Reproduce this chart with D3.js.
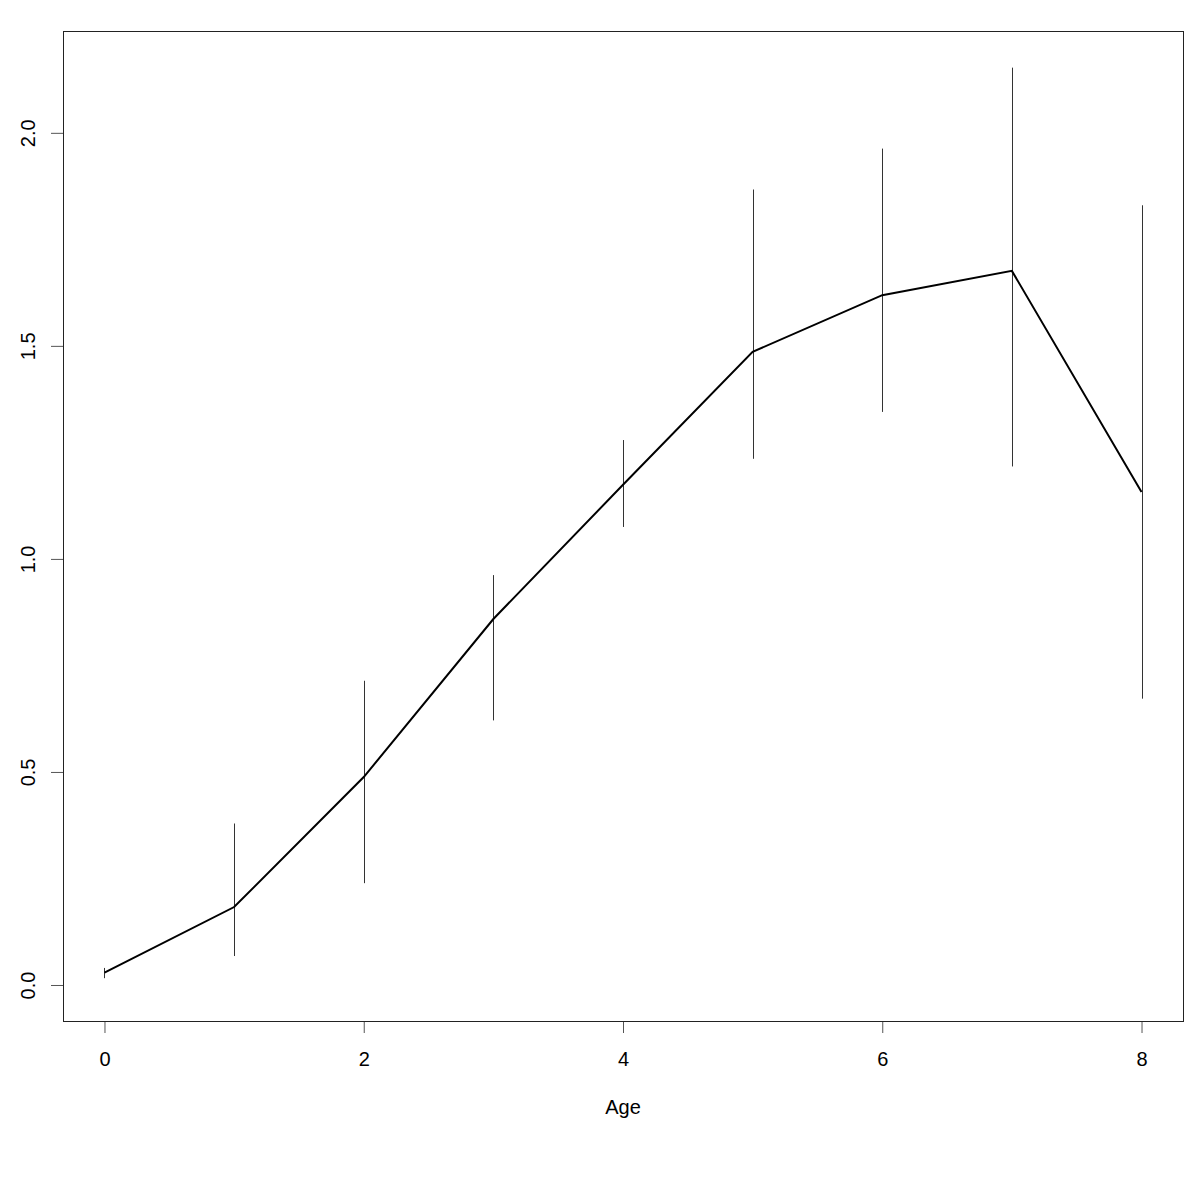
<!DOCTYPE html>
<html>
<head>
<meta charset="utf-8">
<script src="https://cdn.jsdelivr.net/npm/d3@7"></script>
<style>
  body { margin: 0; background: #fff; }
  text { font-family: "Liberation Sans", Arial, sans-serif; font-size: 20px; fill: #000; }
</style>
</head>
<body>
<svg id="chart" width="1200" height="1200"></svg>
<script>
const ages = [0, 1, 2, 3, 4, 5, 6, 7, 8];
const means = [0.029, 0.183, 0.488, 0.859, 1.174, 1.486, 1.619, 1.676, 1.157];
const lower = [0.016, 0.068, 0.239, 0.621, 1.075, 1.235, 1.345, 1.217, 0.672];
const upper = [0.040, 0.379, 0.714, 0.962, 1.279, 1.867, 1.963, 2.153, 1.830];
const xTicks = [0, 2, 4, 6, 8];
const yTicks = [0, 0.5, 1, 1.5, 2];
const xLabel = "Age";

const svg = d3.select("#chart");
const margin = { left: 63, top: 31, right: 17, bottom: 179 };
const width = +svg.attr("width");
const height = +svg.attr("height");

const xScale = d3.scaleLinear()
  .domain([-0.32, 8.32])
  .range([margin.left, width - margin.right]);

const yScale = d3.scaleLinear()
  .domain([-0.0845, 2.239])
  .range([height - margin.bottom, margin.top]);

const data = ages.map((a, i) => ({ age: a, mean: means[i], lo: lower[i], hi: upper[i] }));

const px = v => Math.round(v) + 0.5;

// error bars
svg.append("g")
  .selectAll("line")
  .data(data)
  .enter().append("line")
    .attr("x1", d => px(xScale(d.age)))
    .attr("x2", d => px(xScale(d.age)))
    .attr("y1", d => yScale(d.lo))
    .attr("y2", d => yScale(d.hi))
    .attr("stroke", "#333")
    .attr("stroke-width", 1);

// mean line
const line = d3.line()
  .x(d => xScale(d.age))
  .y(d => yScale(d.mean));

svg.append("path")
  .datum(data)
  .attr("d", line)
  .attr("fill", "none")
  .attr("stroke", "#000")
  .attr("stroke-width", 2);

// x axis
const xAxis = d3.axisBottom(xScale)
  .tickValues(xTicks)
  .tickFormat(d3.format("d"))
  .tickSize(12)
  .tickPadding(19);

const xAxisG = svg.append("g")
  .attr("transform", `translate(0, ${height - margin.bottom})`)
  .call(xAxis);
xAxisG.select(".domain").remove();
xAxisG.selectAll(".tick line").attr("stroke", "#555");
xAxisG.selectAll(".tick text")
  .attr("font-size", null)
  .attr("font-family", null)
  .style("font-size", "20px");

// y axis
const yAxis = d3.axisLeft(yScale)
  .tickValues(yTicks)
  .tickFormat(d3.format(".1f"))
  .tickSize(12);

const yAxisG = svg.append("g")
  .attr("transform", `translate(${margin.left}, 0)`)
  .call(yAxis);
yAxisG.select(".domain").remove();
yAxisG.selectAll(".tick line").attr("stroke", "#555");
yAxisG.selectAll(".tick text")
  .attr("x", null)
  .attr("dy", null)
  .attr("font-size", null)
  .attr("font-family", null)
  .attr("text-anchor", "middle")
  .attr("transform", "translate(-28, 0) rotate(-90)")
  .style("font-size", "20px");

// frame
svg.append("rect")
  .attr("x", margin.left + 0.5)
  .attr("y", margin.top + 0.5)
  .attr("width", width - margin.left - margin.right)
  .attr("height", height - margin.top - margin.bottom)
  .attr("fill", "none")
  .attr("stroke", "#222")
  .attr("stroke-width", 1);

// axis label
svg.append("text")
  .attr("x", (xScale(0) + xScale(8)) / 2)
  .attr("y", 1114)
  .attr("text-anchor", "middle")
  .text(xLabel);
</script>
</body>
</html>
